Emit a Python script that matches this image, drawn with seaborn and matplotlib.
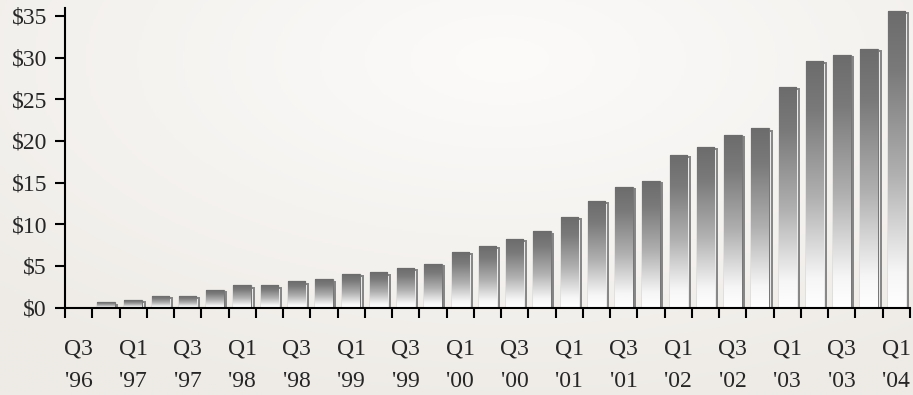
import numpy as np
import matplotlib
matplotlib.use("Agg")
import matplotlib.pyplot as plt
from matplotlib.colors import LinearSegmentedColormap
from matplotlib.patches import Rectangle
import seaborn as sns
import pandas as pd

quarters = ["Q3 '96", "Q4 '96",
            "Q1 '97", "Q2 '97", "Q3 '97", "Q4 '97",
            "Q1 '98", "Q2 '98", "Q3 '98", "Q4 '98",
            "Q1 '99", "Q2 '99", "Q3 '99", "Q4 '99",
            "Q1 '00", "Q2 '00", "Q3 '00", "Q4 '00",
            "Q1 '01", "Q2 '01", "Q3 '01", "Q4 '01",
            "Q1 '02", "Q2 '02", "Q3 '02", "Q4 '02",
            "Q1 '03", "Q2 '03", "Q3 '03", "Q4 '03",
            "Q1 '04"]
values = [0.0, 0.67,
          0.96, 1.44, 1.44, 2.16,
          2.68, 2.68, 3.16, 3.4,
          4.08, 4.3, 4.8, 5.28,
          6.72, 7.44, 8.28, 9.16,
          10.92, 12.84, 14.52, 15.24,
          18.36, 19.32, 20.76, 21.52,
          26.52, 29.64, 30.36, 31.08,
          35.64]
y_ticks = [0, 5, 10, 15, 20, 25, 30, 35]
y_tick_labels = ["$0", "$5", "$10", "$15", "$20", "$25", "$30", "$35"]

sns.set_style("white")
plt.rcParams['font.family'] = ['Liberation Serif', 'DejaVu Serif']

fig = plt.figure(figsize=(9.13, 3.95), dpi=100)
fig.patch.set_facecolor('#f2f0ec')

# background gradient
bg = fig.add_axes([0, 0, 1, 1], zorder=-10)
yy, xx = np.mgrid[0:1:200j, 0:1:400j]
d = np.sqrt(((xx - 0.55) / 0.8) ** 2 + ((yy - 0.15) / 0.9) ** 2)
bg.imshow(d, cmap=LinearSegmentedColormap.from_list('bg', ['#fcfbfa', '#eeebe6']),
          extent=[0, 1, 0, 1], aspect='auto', origin='upper', vmin=0, vmax=1)
bg.axis('off')

ax = fig.add_axes([65 / 913, 1 - 307.5 / 395, 845 / 913, 300 / 395])
ax.set_facecolor('none')

df = pd.DataFrame({"quarter": quarters, "value": values})
sns.barplot(data=df, x="quarter", y="value", order=quarters, width=0.64,
            color='#888888', ax=ax, zorder=3)

cmap = LinearSegmentedColormap.from_list(
    'bar', [(0.0, '#ffffff'), (0.12, '#f6f6f6'), (0.45, '#b0b0b0'), (0.8, '#7a7a7a'), (1.0, '#6c6c6c')])
grad = np.linspace(0, 1, 256).reshape(-1, 1)

patches = list(ax.patches)
for p in patches:
    x, y = p.get_x(), p.get_y()
    w, h = p.get_width(), p.get_height()
    if h <= 0:
        p.set_visible(False)
        continue
    # shadow outline to the right
    sh = Rectangle((x + 0.1, 0), w, h - 0.35, facecolor='#fbfbfb',
                   edgecolor='#858585', linewidth=1.4, zorder=2)
    ax.add_patch(sh)
    p.set_facecolor('none')
    p.set_edgecolor('#777777')
    p.set_linewidth(0.9)
    im = ax.imshow(grad, cmap=cmap, extent=[x, x + w, 0, h], aspect='auto',
                   origin='lower', zorder=3, interpolation='bilinear')
    im.set_clip_path(p)

ax.set_xlim(-0.5, len(quarters) - 0.5)
ax.set_ylim(0, 36)
ax.set_aspect('auto')

for s in ['top', 'right']:
    ax.spines[s].set_visible(False)
for s in ['left', 'bottom']:
    ax.spines[s].set_color('black')
    ax.spines[s].set_linewidth(1.5)
    ax.spines[s].set_zorder(5)

ax.set_yticks(y_ticks)
ax.set_yticklabels(y_tick_labels, fontsize=17)
ax.tick_params(axis='y', direction='out', length=7, width=1.5, color='black', pad=6, left=True)

# x: major ticks at category boundaries, labels every other quarter at centers
bounds = np.arange(-0.5, len(quarters), 1.0)
ax.set_xticks(bounds)
ax.set_xticklabels([])
ax.tick_params(axis='x', which='major', direction='out', length=7, width=1.5, color='black', bottom=True)
label_pos = list(range(0, len(quarters), 2))
label_txt = [quarters[i].replace(' ', '\n') for i in label_pos]
ax.set_xticks(label_pos, minor=True)
ax.set_xticklabels(label_txt, minor=True, fontsize=17, linespacing=1.75)
ax.tick_params(axis='x', which='minor', length=0, pad=22)

ax.set_xlabel('')
ax.set_ylabel('')

fig.savefig('out.png', dpi=100, facecolor=fig.get_facecolor())
